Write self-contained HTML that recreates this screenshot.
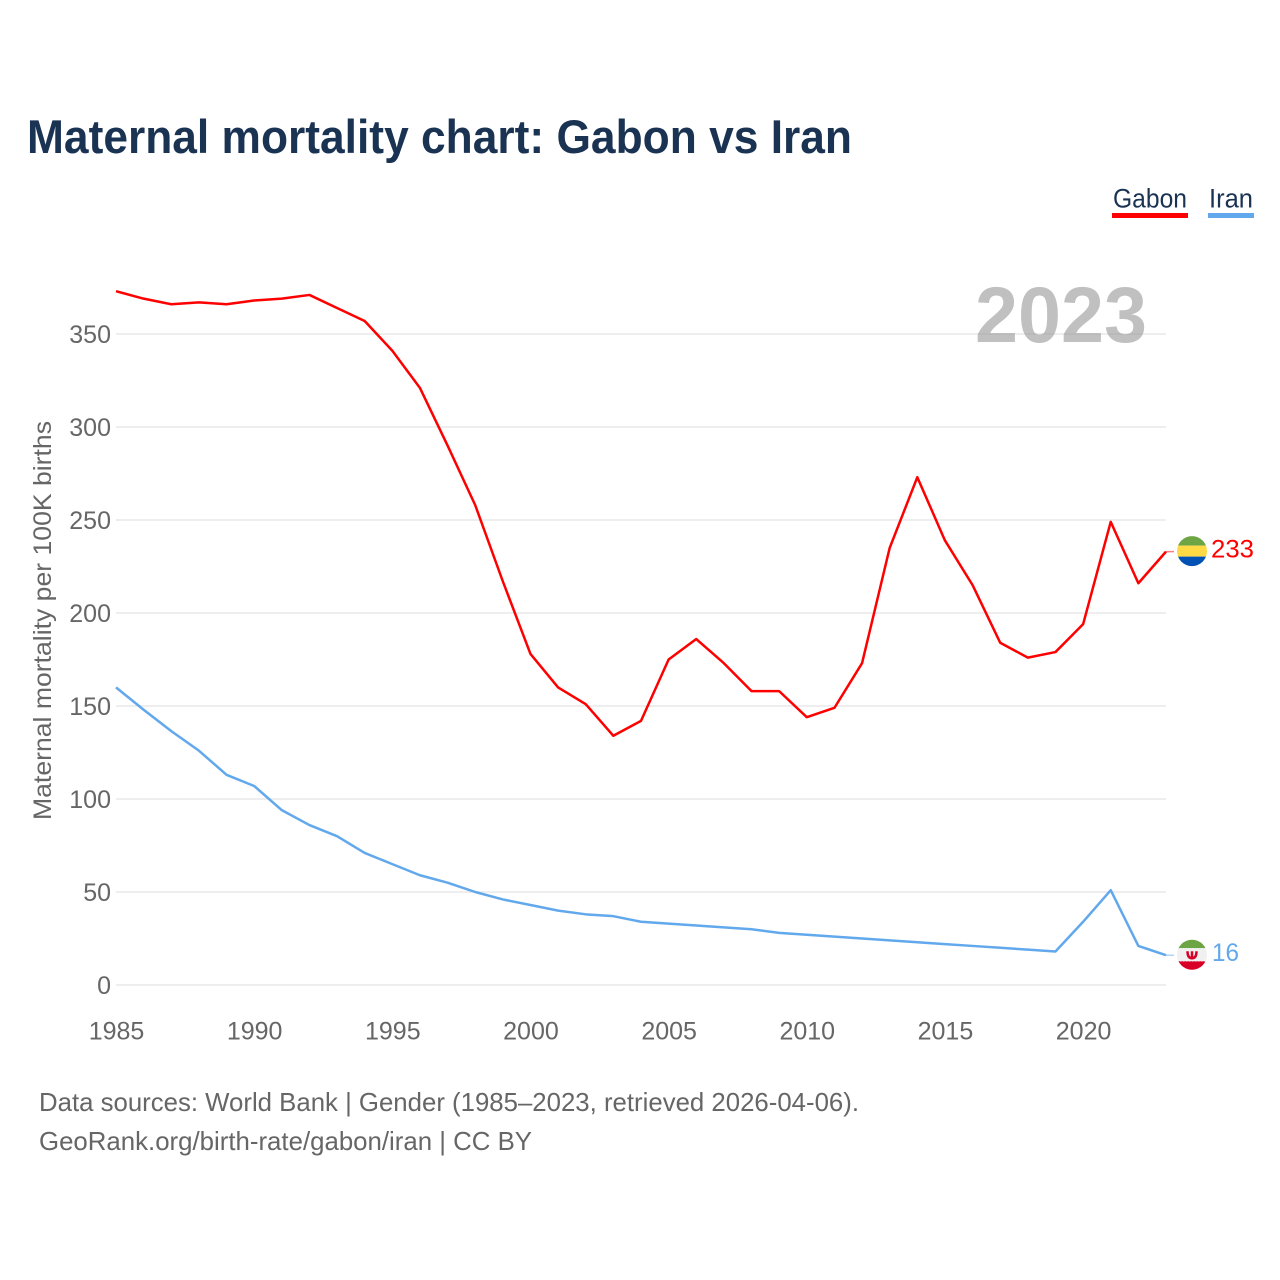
<!DOCTYPE html>
<html lang="en">
<head>
<meta charset="utf-8">
<title>Maternal mortality chart: Gabon vs Iran</title>
<style>
  html, body { margin: 0; padding: 0; background: #fff; }
  svg { display: block; font-family: "Liberation Sans", sans-serif; }
</style>
</head>
<body>
<svg id="chart" width="1280" height="1280" viewBox="0 0 1280 1280" xmlns="http://www.w3.org/2000/svg">
  <rect x="0" y="0" width="1280" height="1280" fill="#ffffff"/>
  <text x="27" y="153" font-size="47" font-weight="700" fill="#1a3353" textLength="825" lengthAdjust="spacingAndGlyphs">Maternal mortality chart: Gabon vs Iran</text>

  <g id="grid"></g>
  <text x="975" y="342" font-size="79" font-weight="700" fill="#969696" fill-opacity="0.6" textLength="172" lengthAdjust="spacingAndGlyphs">2023</text>
  <g id="yticks"></g>
  <g id="xticks"></g>
  <text transform="translate(51,620.5) rotate(-90)" text-anchor="middle" font-size="25" fill="#666666" textLength="399" lengthAdjust="spacingAndGlyphs">Maternal mortality per 100K births</text>
  <g id="series"></g>

  <g>
    <g>
      <text x="1113" y="207.5" font-size="27" fill="#1a3353" textLength="74" lengthAdjust="spacingAndGlyphs">Gabon</text>
      <rect x="1112" y="213" width="76" height="5" fill="#ff0000"/>
    </g>
    <g>
      <text x="1209" y="207.5" font-size="27" fill="#1a3353" textLength="44" lengthAdjust="spacingAndGlyphs">Iran</text>
      <rect x="1208" y="213" width="46" height="5" fill="#62a8ec"/>
    </g>
  </g>

  <defs>
    <clipPath id="flag-clip"><circle cx="0" cy="0" r="15"/></clipPath>
  </defs>
  <g id="gabon-flag" clip-path="url(#flag-clip)">
    <rect x="-15" y="-16" width="30" height="10.5" fill="#6da544"/>
    <rect x="-15" y="-5.5" width="30" height="11" fill="#ffda44"/>
    <rect x="-15" y="5.5" width="30" height="10.5" fill="#0052b4"/>
  </g>
  <g id="iran-flag" clip-path="url(#flag-clip)">
    <rect x="-15" y="-16" width="30" height="9.5" fill="#6da544"/>
    <rect x="-15" y="-6.5" width="30" height="13" fill="#f0f0f0"/>
    <rect x="-15" y="6.5" width="30" height="9.5" fill="#d80027"/>
    <line x1="-15" x2="15" y1="-6" y2="-6" stroke="#f0f0f0" stroke-width="1.5" stroke-dasharray="1.5 1.5"/>
    <line x1="-15" x2="15" y1="6" y2="6" stroke="#f0f0f0" stroke-width="1.5" stroke-dasharray="1.5 1.5"/>
    <path d="M-4.5 -3.5 Q-4.5 3.5 0 3.5 Q4.5 3.5 4.5 -3.5 M0 -3.5 V4.5" fill="none" stroke="#d80027" stroke-width="2.5"/>
  </g>
  <text id="gabon-value" x="1211" font-size="25" fill="#ff0000" textLength="43" lengthAdjust="spacingAndGlyphs"></text>
  <text id="iran-value" x="1212" font-size="25" fill="#62a8ec" textLength="27" lengthAdjust="spacingAndGlyphs"></text>

  <g>
    <text x="39" y="1111" font-size="26" fill="#666666" textLength="820" lengthAdjust="spacingAndGlyphs">Data sources: World Bank | Gender (1985–2023, retrieved 2026-04-06).</text>
    <text x="39" y="1150" font-size="26" fill="#666666" textLength="493" lengthAdjust="spacingAndGlyphs">GeoRank.org/birth-rate/gabon/iran | CC BY</text>
  </g>
</svg>
<script>
const years = [1985,1986,1987,1988,1989,1990,1991,1992,1993,1994,1995,1996,1997,1998,1999,2000,2001,2002,2003,2004,2005,2006,2007,2008,2009,2010,2011,2012,2013,2014,2015,2016,2017,2018,2019,2020,2021,2022,2023];
const gabonValues = [373,369,366,367,366,368,369,371,364,357,341,321,290,258,217,178,160,151,134,142,175,186,173,158,158,144,149,173,235,273,239,215,184,176,179,194,249,216,233];
const iranValues = [160,148,136.5,126,113,107,94,86,80,71,65,59,55,50,46,43,40,38,37,34,33,32,31,30,28,27,26,25,24,23,22,21,20,19,18,34,51,21,16];
const yTickValues = [0,50,100,150,200,250,300,350];
const xTickValues = [1985,1990,1995,2000,2005,2010,2015,2020];

const NS = 'http://www.w3.org/2000/svg';
const plot = { left: 116, right: 1166, zero: 985, pxPerUnit: 1.86 };
function xScale(year) {
  return plot.left + (year - years[0]) / (years[years.length - 1] - years[0]) * (plot.right - plot.left);
}
function yScale(value) {
  return plot.zero - value * plot.pxPerUnit;
}
function make(tag, attrs, parent) {
  const el = document.createElementNS(NS, tag);
  for (const k in attrs) el.setAttribute(k, attrs[k]);
  parent.appendChild(el);
  return el;
}

const grid = document.getElementById('grid');
const yticks = document.getElementById('yticks');
const xticks = document.getElementById('xticks');
const series = document.getElementById('series');

yTickValues.forEach(function (v) {
  const line = make('line', { x1: plot.left, x2: plot.right, y1: yScale(v), y2: yScale(v), stroke: '#eeeeee', 'stroke-width': 2 }, grid);
  
  
  const label = make('text', { x: 111, y: yScale(v) + 9, 'text-anchor': 'end', 'font-size': 25, fill: '#666666' }, yticks);
  label.textContent = v;
  
  
});

xTickValues.forEach(function (y) {
  const label = make('text', { x: xScale(y) + 0.5, y: 1039.5, 'text-anchor': 'middle', 'font-size': 25, fill: '#666666' }, xticks);
  label.textContent = y;
  
  
});

function drawSeries(values, color, key, valueId, flagId) {
  const points = values.map(function (v, i) {
    return xScale(years[i]).toFixed(2) + ',' + yScale(v).toFixed(2);
  }).join(' ');
  const endY = yScale(values[values.length - 1]);
  const connector = make('line', { x1: plot.right, x2: 1174, y1: endY, y2: endY, stroke: color, 'stroke-width': 1.5, 'stroke-opacity': 0.5 }, series);
  
  
  const line = make('polyline', { points: points, fill: 'none', stroke: color, 'stroke-width': 2.5, 'stroke-linejoin': 'round' }, series);
  
  
  const flag = document.getElementById(flagId);
  flag.setAttribute('transform', 'translate(1192,' + (endY - 0.5) + ')');
  const label = document.getElementById(valueId);
  label.setAttribute('y', endY + 6);
  label.textContent = values[values.length - 1];
}

drawSeries(gabonValues, '#ff0000', 'gabon', 'gabon-value', 'gabon-flag');
drawSeries(iranValues, '#62a8ec', 'iran', 'iran-value', 'iran-flag');
</script>
</body>
</html>
